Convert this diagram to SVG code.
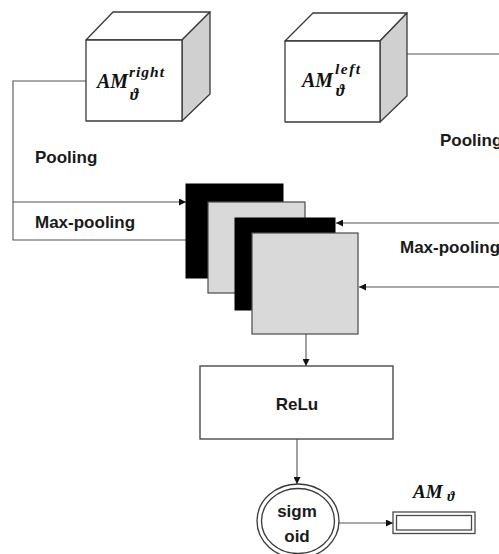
<svg xmlns="http://www.w3.org/2000/svg" width="499" height="554" viewBox="0 0 499 554">
<style>
.face{fill:#ffffff;stroke:#3a3a3a;stroke-width:1.3;stroke-linejoin:round}
.side{fill:#d0d0d0;stroke:#3a3a3a;stroke-width:1.3;stroke-linejoin:round}
.blk{fill:#000000;stroke:#000000;stroke-width:1}
.gry{fill:#d9d9d9;stroke:#4a4a4a;stroke-width:1.2}
.box{fill:#ffffff;stroke:#4a4a4a;stroke-width:1.4}
.ln{fill:none;stroke:#555555;stroke-width:1.1}
.lbl{font-family:"Liberation Sans",Arial,sans-serif;font-weight:bold;font-size:17px;fill:#1a1a1a}
.math{font-family:"Liberation Serif","DejaVu Serif",serif;font-weight:bold;font-style:italic;fill:#111111}
</style>
<defs>
<marker id="ah" viewBox="0 0 10 10" refX="10" refY="5" markerWidth="7" markerHeight="7" markerUnits="userSpaceOnUse" orient="auto">
<path d="M0,0 L10,5 L0,10 z" fill="#111111"/>
</marker>
</defs>

<g id="connectors">
<polyline class="ln" points="86,81 13,81 13,240 186,240"/>
<line class="ln" x1="13" y1="202" x2="186" y2="202" marker-end="url(#ah)"/>
<line class="ln" x1="407" y1="54" x2="499" y2="54"/>
<line class="ln" x1="499" y1="223" x2="336" y2="223" marker-end="url(#ah)"/>
<line class="ln" x1="499" y1="287" x2="359" y2="287" marker-end="url(#ah)"/>
<line class="ln" x1="306" y1="334" x2="306" y2="366" marker-end="url(#ah)"/>
<line class="ln" x1="297" y1="439" x2="297" y2="484" marker-end="url(#ah)"/>
<line class="ln" x1="339" y1="523" x2="393" y2="523" marker-end="url(#ah)"/>
</g>

<g id="cube-right">
<polygon class="face" points="86,40 113,12 210,12 182,40"/>
<polygon class="side" points="182,40 210,12 210,94 182,121"/>
<rect class="face" x="86" y="40" width="96" height="81"/>
<text class="math" x="97" y="88" font-size="20">AM</text>
<text class="math" x="129" y="77" font-size="15.5" letter-spacing="1">right</text>
<text class="math" x="130" y="100" font-size="16">ϑ</text>
</g>

<g id="cube-left">
<polygon class="face" points="285,41 313,13 407,13 380,41"/>
<polygon class="side" points="380,41 407,13 407,96 380,122"/>
<rect class="face" x="285" y="41" width="95" height="81"/>
<text class="math" x="302" y="87" font-size="20">AM</text>
<text class="math" x="335" y="74" font-size="15.5" letter-spacing="1.5">left</text>
<text class="math" x="336" y="96" font-size="16">ϑ</text>
</g>

<g id="labels">
<text class="lbl" x="35" y="163">Pooling</text>
<text class="lbl" x="35" y="228">Max-pooling</text>
<text class="lbl" x="440" y="146">Pooling</text>
<text class="lbl" x="400" y="253">Max-pooling</text>
</g>

<g id="feature-maps">
<rect class="blk" x="186" y="184" width="97" height="94"/>
<rect class="gry" x="208" y="202" width="97" height="91"/>
<rect class="blk" x="235" y="218" width="100" height="92"/>
<rect class="gry" x="252" y="233" width="106" height="101"/>
</g>

<g id="relu">
<rect class="box" x="200" y="366" width="193" height="73"/>
<text class="lbl" x="297" y="410" text-anchor="middle">ReLu</text>
</g>

<g id="sigmoid">
<ellipse cx="298" cy="521" rx="41" ry="37" fill="#ffffff" stroke="#3a3a3a" stroke-width="1.3"/>
<ellipse cx="298" cy="521" rx="36.5" ry="32.5" fill="none" stroke="#3a3a3a" stroke-width="1.3"/>
<text class="lbl" x="297" y="517" text-anchor="middle">sigm</text>
<text class="lbl" x="297" y="542" text-anchor="middle">oid</text>
</g>

<g id="output">
<rect x="393" y="512" width="82" height="21.5" fill="#ffffff" stroke="#4a4a4a" stroke-width="1.3"/>
<rect x="396.5" y="515.5" width="75" height="14.5" fill="none" stroke="#4a4a4a" stroke-width="1.3"/>
<text class="math" x="413" y="498" font-size="19">AM <tspan font-size="14" dy="3">ϑ</tspan></text>
</g>
</svg>
